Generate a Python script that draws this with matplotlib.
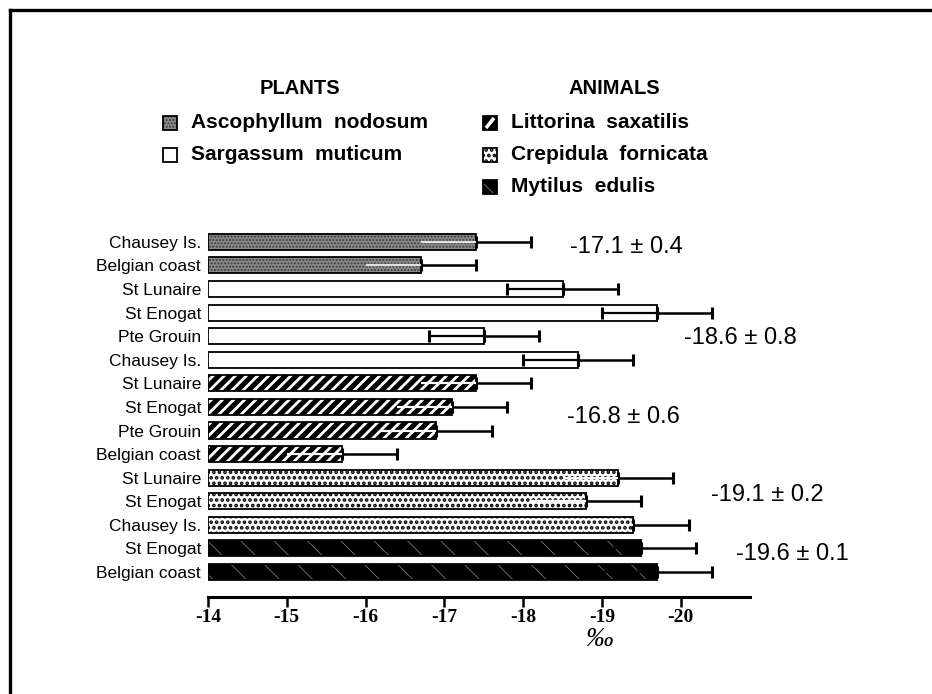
import matplotlib.pyplot as plt
import numpy as np
from matplotlib.patches import Rectangle
from matplotlib.lines import Line2D

plt.rcParams['font.family'] = ['Liberation Sans', 'DejaVu Sans']
plt.rcParams['axes.unicode_minus'] = False

# data (delta 13C, per mil)
sites = ['Chausey Is.', 'Belgian coast', 'St Lunaire', 'St Enogat', 'Pte Grouin',
         'Chausey Is.', 'St Lunaire', 'St Enogat', 'Pte Grouin', 'Belgian coast',
         'St Lunaire', 'St Enogat', 'Chausey Is.', 'St Enogat', 'Belgian coast']
row_species = ['Asco', 'Asco', 'Sarg', 'Sarg', 'Sarg', 'Sarg',
               'Litt', 'Litt', 'Litt', 'Litt', 'Crep', 'Crep', 'Crep', 'Myt', 'Myt']
values = [-17.4, -16.7, -18.5, -19.7, -17.5, -18.7, -17.4, -17.1, -16.9, -15.7,
          -19.2, -18.8, -19.4, -19.5, -19.7]
errors = [0.7, 0.7, 0.7, 0.7, 0.7, 0.7, 0.7, 0.7, 0.7, 0.7, 0.7, 0.7, 0.7, 0.7, 0.7]

mean_labels = ['-17.1 \u00b1 0.4', '-18.6 \u00b1 0.8', '-16.8 \u00b1 0.6',
               '-19.1 \u00b1 0.2', '-19.6 \u00b1 0.1']
mean_x = [-18.59, -20.04, -18.56, -20.38, -20.70]
mean_y = [0.21, 4.07, 7.42, 10.73, 13.24]

xticks = [-14, -15, -16, -17, -18, -19, -20]
base = -14

plant_names = ['Ascophyllum  nodosum', 'Sargassum  muticum']
animal_names = ['Littorina  saxatilis', 'Crepidula  fornicata', 'Mytilus  edulis']

# face, hatch, hatch colour, hatch linewidth, colour of error bar inside the bar
styles = {
    'Asco': ('#8a8a8a', '.....', '#3a3a3a', 1.0, '#e0e0e0'),
    'Sarg': ('white', None, 'black', 1.0, 'black'),
    'Litt': ('black', '///', 'white', 2.0, 'white'),
    'Crep': ('white', '...', 'black', 1.8, 'white'),
    'Myt': ('black', '\\', '#9a9a9a', 0.45, 'black'),
}


def hatched(make, face, hatch, hcol, hlw):
    make(facecolor=face, edgecolor='none', linewidth=0)
    if hatch:
        with plt.rc_context({'hatch.linewidth': hlw}):
            arts = make(facecolor='none', edgecolor=hcol, linewidth=0, hatch=hatch)
        for a in (arts if hasattr(arts, '__iter__') else [arts]):
            if hasattr(a, 'set_hatch_linewidth'):
                a.set_hatch_linewidth(hlw)
    make(facecolor='none', edgecolor='black', linewidth=1.3)


fig = plt.figure(figsize=(9.32, 6.94), dpi=100)
ax = fig.add_axes([0.2232, 0.1398, 0.5815, 0.5317])

ys = np.arange(len(sites))
vals = np.array(values)
errs = np.array(errors)

for sp, (face, hatch, hcol, hlw, inner) in styles.items():
    idx = np.array([i for i, s in enumerate(row_species) if s == sp])
    y = ys[idx]
    v = vals[idx]
    hatched(lambda **kw: ax.barh(y, v - base, left=base, height=0.68, **kw),
            face, hatch, hcol, hlw)
    zeros = np.zeros(len(idx))
    ax.errorbar(v, y, xerr=[errs[idx], zeros], fmt='none', ecolor='black',
                elinewidth=1.8, capsize=4, capthick=2.2, zorder=4)
    ax.errorbar(v, y, xerr=[zeros, errs[idx]], fmt='none', ecolor=inner,
                elinewidth=1.6, capsize=4 if sp == 'Sarg' else 0, capthick=2.2,
                zorder=4)

for lbl, x, y in zip(mean_labels, mean_x, mean_y):
    ax.text(x, y, lbl, fontsize=17, ha='left', va='center', clip_on=False)

ax.set_xlim(-14, -20.88)
ax.set_ylim(15.06, -0.59)
ax.set_xticks(xticks)
ax.set_xticklabels([str(t) for t in xticks])
ax.set_yticks(ys)
ax.set_yticklabels(sites, fontsize=12.5)
for side in ['left', 'top', 'right']:
    ax.spines[side].set_visible(False)
ax.spines['bottom'].set_linewidth(2.2)
ax.tick_params(axis='x', direction='out', length=7, width=1.8, pad=2)
ax.tick_params(axis='y', length=0, pad=5)
for lbl in ax.get_xticklabels():
    lbl.set_fontfamily('Liberation Serif')
    lbl.set_fontweight('bold')
    lbl.set_fontsize(14)

fig.text(599 / 932, 1 - 640 / 694, '\u2030', fontsize=20, family='Liberation Serif',
         style='italic', ha='center', va='center')

# legend block
W, H = 932, 694
fig.text(300 / W, 1 - 89 / H, 'PLANTS', fontsize=14.5, weight='bold', ha='center', va='center')
fig.text(614 / W, 1 - 89 / H, 'ANIMALS', fontsize=14.5, weight='bold', ha='center', va='center')
legend_rows = [
    (163, 123, plant_names[0], 'Asco'),
    (163, 155, plant_names[1], 'Sarg'),
    (483, 123, animal_names[0], 'Litt'),
    (483, 155, animal_names[1], 'Crep'),
    (483, 187, animal_names[2], 'Myt'),
]
for px, py, name, sp in legend_rows:
    face, hatch, hcol, hlw, _ = styles[sp]
    if sp == 'Litt':
        hatch = None
    x0, y0 = px / W, 1 - (py + 7) / H

    def make(**kw):
        return fig.add_artist(Rectangle((x0, y0), 14 / W, 14 / H,
                                        transform=fig.transFigure, **kw))
    hatched(make, face, hatch, hcol, hlw)
    if sp == 'Litt':
        # single white stripe across the swatch
        fig.add_artist(Line2D([(px + 3) / W, (px + 11) / W],
                              [1 - (py + 5) / H, 1 - (py - 5) / H],
                              color='white', lw=2.6, solid_capstyle='butt'))
    fig.text((px + 28) / W, 1 - py / H, name, fontsize=15, weight='bold',
             ha='left', va='center')

# frame of the scanned figure (top and left edges only)
fig.add_artist(Line2D([10 / W, 1], [1 - 10 / H, 1 - 10 / H], color='black', lw=2.4))
fig.add_artist(Line2D([10 / W, 10 / W], [0, 1 - 10 / H], color='black', lw=2.4))

fig.savefig('out.png', dpi=100)
